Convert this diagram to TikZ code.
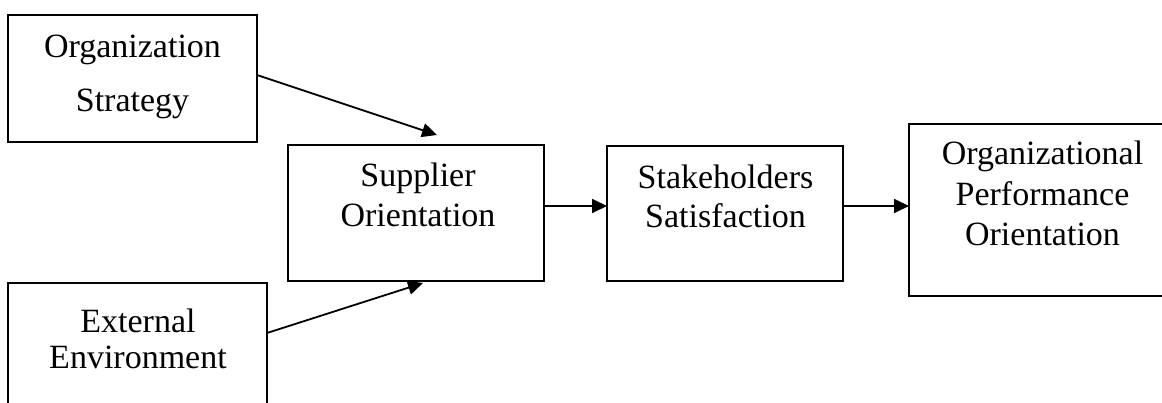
\documentclass[tikz,border=0pt]{standalone}
\usepackage{fontspec}
\setmainfont{Liberation Serif}
\usetikzlibrary{arrows.meta,calc}
\begin{document}
\begin{tikzpicture}[x=1pt,y=-1pt,
  boxst/.style={draw=black,line width=1.8pt,rectangle,inner sep=0pt,outer sep=0pt},
  txt/.style={anchor=base,inner sep=0pt,font=\fontsize{34}{40}\selectfont},
  arr/.style={line width=1.8pt,-{Triangle[length=15pt,width=14pt]}}]
\useasboundingbox (0,0) rectangle (1162,403);
\clip (0,0) rectangle (1162,403);
% boxes
\node[boxst,minimum width=249pt,minimum height=127pt] (org) at (132.5,78.5) {};
\node[boxst,minimum width=259pt,minimum height=177pt] (ext) at (137.5,371.5) {};
\node[boxst,minimum width=256pt,minimum height=136pt] (sup) at (416,213) {};
\node[boxst,minimum width=236pt,minimum height=135pt] (stake) at (725,213.5) {};
\node[boxst,minimum width=267pt,minimum height=172pt] (perf) at (1042.5,210) {};
% texts
\node[txt] (org1) at (132.5,58) {Organization};
\node[txt] (org2) at (132.5,112) {Strategy};
\node[txt] (ext1) at (138,332) {External};
\node[txt] (ext2) at (138,368.5) {Environment};
\node[txt] (sup1) at (418,187) {Supplier};
\node[txt] (sup2) at (418,227) {Orientation};
\node[txt] (stk1) at (725.5,189) {Stakeholders};
\node[txt] (stk2) at (725.5,228) {Satisfaction};
\node[txt] (prf1) at (1042.5,165) {Organizational};
\node[txt] (prf2) at (1042.5,206) {Performance};
\node[txt] (prf3) at (1042.5,246) {Orientation};
% arrow ends
\coordinate (t1) at (437,135);
\coordinate (t2) at (423,283);
% connectors
\draw[arr] ($(org.east)+(0,-3.5)$) -- (t1);
\draw[arr] ($(ext.north east)+(0,50)$) -- (t2);
\draw[arr] ($(sup.east)+(0,-7)$) -- ($(stake.west)+(0,-7.5)$);
\draw[arr] ($(stake.east)+(0,-7.5)$) -- ($(perf.west)+(0,-4)$);
\end{tikzpicture}
\end{document}
